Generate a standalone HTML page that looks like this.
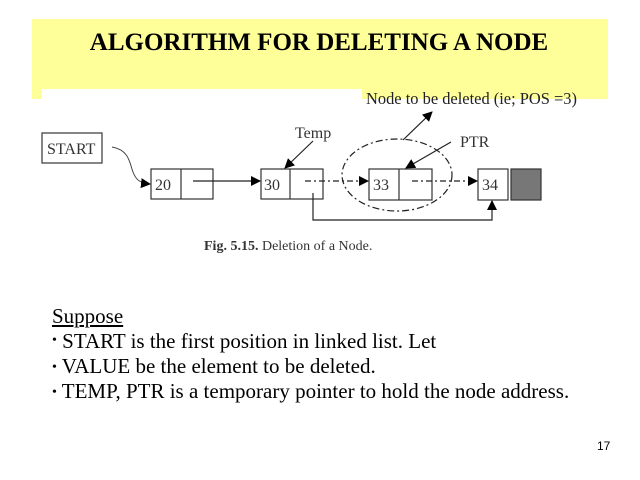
<!DOCTYPE html>
<html><head><meta charset="utf-8"><style>
html,body{margin:0;padding:0;background:#fff;}
#s{position:relative;width:640px;height:480px;overflow:hidden;background:#fff;font-family:"Liberation Serif",serif;}
.t{position:absolute;white-space:nowrap;color:#000;}
</style></head><body><div id="s">
<div style="position:absolute;left:32px;top:19px;width:576px;height:80px;background:#ffff99"></div>
<div style="position:absolute;left:42px;top:89px;width:320px;height:14px;background:#fff"></div>
<div class="t" style="left:0;width:638px;text-align:center;top:29px;font-size:25px;font-weight:bold;">ALGORITHM FOR DELETING A NODE</div>
<svg style="position:absolute;left:0;top:0" width="640" height="480" font-family="Liberation Serif, serif">
<defs><marker id="a" markerWidth="10" markerHeight="10" refX="9" refY="5" orient="auto" markerUnits="userSpaceOnUse"><path d="M0,0 L10,5 L0,10 z" fill="#000"/></marker></defs>
<text x="366" y="104" font-size="17" fill="#222" textLength="211" lengthAdjust="spacingAndGlyphs">Node to be deleted (ie; POS =3)</text>
<rect x="42" y="133" width="60" height="30" fill="#fff" stroke="#444" stroke-width="1.3"/>
<text x="47" y="154" font-size="16" fill="#333">START</text>
<path d="M112,147 C130,150 130,165 133,172 C136,180 140,183 150,184" fill="none" stroke="#444" stroke-width="1" marker-end="url(#a)"/>
<g stroke="#333" stroke-width="1.2" fill="#fff">
<rect x="151" y="169" width="62" height="30"/><line x1="181" y1="169" x2="181" y2="199"/>
<rect x="261" y="169" width="62" height="30"/><line x1="290" y1="169" x2="290" y2="199"/>
<rect x="369" y="169" width="63" height="31"/><line x1="399" y1="169" x2="399" y2="200"/>
<rect x="478" y="169" width="30" height="31"/>
</g>
<rect x="511" y="169" width="30" height="31" fill="#777" stroke="#333" stroke-width="1.2"/>
<g font-size="16" fill="#333">
<text x="155" y="190">20</text><text x="264" y="190">30</text><text x="373" y="190">33</text><text x="482" y="190">34</text>
<text x="295" y="138">Temp</text><text x="460" y="147">PTR</text>
</g>
<g stroke="#222" stroke-width="1.2" fill="none">
<line x1="193" y1="181" x2="260" y2="181" marker-end="url(#a)"/>
<line x1="305" y1="181" x2="368" y2="181" stroke-dasharray="6,3,2,3" marker-end="url(#a)"/>
<line x1="412" y1="181" x2="477" y2="181" stroke-dasharray="6,3,2,3" marker-end="url(#a)"/>
<ellipse cx="397" cy="175" rx="55" ry="36" stroke-dasharray="7,3,2,3"/>
<path d="M313,193 L313,220 L492,220 L492,201" marker-end="url(#a)"/>
<line x1="313" y1="141" x2="285" y2="168" marker-end="url(#a)"/>
<line x1="403" y1="140" x2="432" y2="112" marker-end="url(#a)"/>
<line x1="451" y1="142" x2="406" y2="168" marker-end="url(#a)"/>
</g>
<text x="204" y="250" font-size="14" fill="#333"><tspan font-weight="bold">Fig. 5.15.</tspan> Deletion of a Node.</text>
</svg>
<div class="t" style="left:52px;top:304px;font-size:21px;text-decoration:underline;">Suppose</div>
<div class="t" style="left:52px;top:329px;font-size:21px;"><span style="font-size:14px;vertical-align:4px">•</span> START is the first position in linked list. Let</div>
<div class="t" style="left:52px;top:354px;font-size:21px;"><span style="font-size:14px;vertical-align:2px">•</span> VALUE be the element to be deleted.</div>
<div class="t" style="left:52px;top:379px;font-size:21px;"><span style="font-size:14px;vertical-align:2px">•</span> TEMP, PTR is a temporary pointer to hold the node address.</div>
<div class="t" style="left:597px;top:439px;font-size:12px;font-family:'Liberation Sans',sans-serif;">17</div>
</div></body></html>
